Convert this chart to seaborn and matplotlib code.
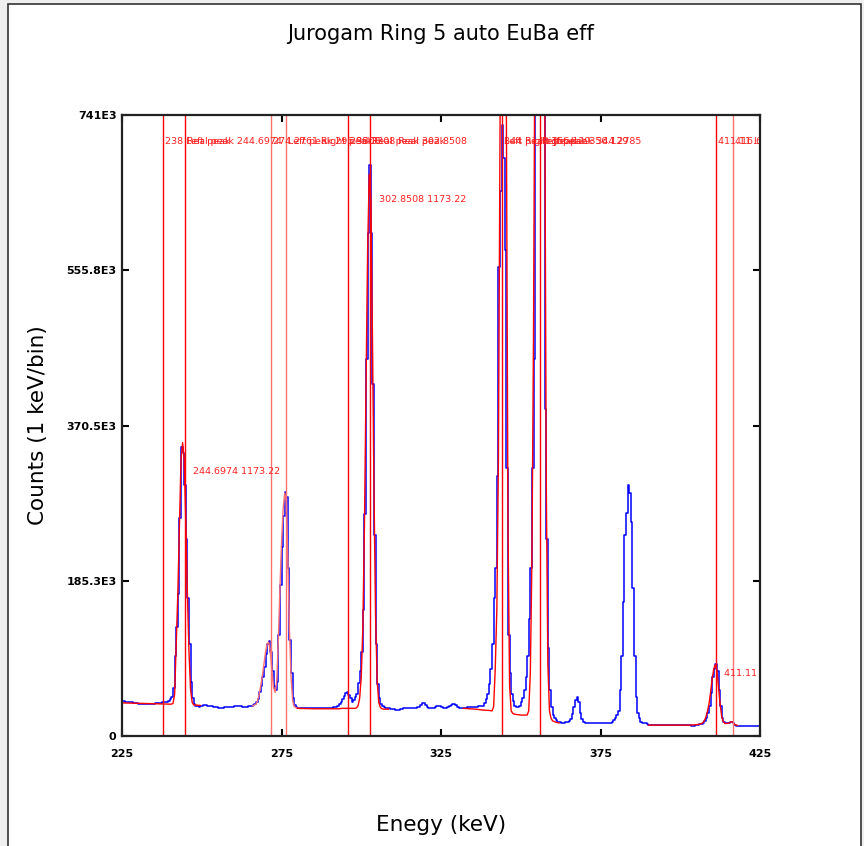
import numpy as np
import pandas as pd
import matplotlib
matplotlib.use("Agg")
import matplotlib.pyplot as plt
from matplotlib.patches import Rectangle
import seaborn as sns

# ---------------- data ----------------
# measured spectrum, counts in thousands, 0.5 keV bins starting at 225 keV
spectrum_start_kev = 225.0
bin_width_kev = 0.5
spectrum_counts_k = [
    42, 41.5, 41, 41, 40.5, 40, 40, 39.5, 39, 39, 38.5, 38.5, 38.5, 38, 38, 38, 38.5, 38, 38, 38.5,          # 225
    38.5, 39, 39, 39, 39.5, 40, 40, 40.5, 41, 42, 44, 47, 57, 95, 130, 170, 260, 345, 338, 300,             # 235
    235, 165, 110, 65, 45, 38, 36, 35.5, 35, 35.5, 36, 36.5, 36.5, 36, 35.5, 35.5, 35.5, 35, 35, 34.5,      # 245
    34, 34, 34, 34, 34.5, 35, 35, 35, 34.5, 35, 35.5, 36, 36, 36, 35.5, 35, 35, 35, 35, 35.5,               # 255
    35.5, 36, 36.5, 38, 40, 44, 52, 60, 70, 82, 98, 110, 113, 100, 78, 60, 55, 65, 120, 180,                # 265
    225, 262, 291, 285, 200, 115, 75, 45, 37, 35, 34, 33.5, 33, 33, 33, 33, 33, 33, 33, 33.5,               # 275
    33, 33, 33, 33.5, 33, 33, 33, 33.5, 33.5, 34, 34, 34, 34.5, 35, 35, 36, 38, 41, 44, 48,                 # 285
    51, 52, 49, 45, 41, 43, 46, 50, 63, 78, 100, 150, 265, 450, 600, 681, 600, 420, 240, 110,               # 295
    62, 45, 38, 36, 35, 34, 33, 33, 32.5, 32, 32, 31.5, 31, 31, 32, 32.5, 33, 33, 34, 34,                   # 305
    33.5, 33.5, 34, 34, 34, 34.5, 35, 37, 39, 39, 37, 35, 33, 33, 33.5, 34, 35, 36, 36, 35.5,               # 315
    35, 34, 34, 34, 35, 36, 37, 38, 38, 37, 35, 34, 34, 34, 34, 34, 34.5, 34.5, 35, 35,                     # 325
    35, 35, 35, 35.5, 36, 36, 36, 39, 44, 50, 62, 80, 110, 165, 200, 310, 560, 650, 729, 690,               # 335
    580, 320, 120, 75, 50, 42, 36, 35, 35, 36, 40, 45, 55, 70, 95, 140, 200, 320, 450, 900,                 # 345
    1150, 1250, 1200, 1000, 800, 390, 235, 105, 55, 35, 25, 21, 19, 17, 17, 16, 16, 16, 17, 17,             # 355
    18, 20, 26, 35, 43, 47, 40, 28, 20, 17, 16, 16, 16, 16, 16, 16, 16, 16, 16, 16,                         # 365
    16, 16, 16, 16, 16, 16, 16, 17, 19, 22, 25, 30, 55, 95, 160, 240, 266, 300, 290, 255,                   # 375
    177, 95, 47, 27, 21, 17, 16, 15.5, 15, 14, 13.5, 13, 13, 13, 13, 13, 13, 13, 13, 13,                    # 385
    13, 13, 13, 13, 13, 13, 13, 13, 13, 13, 13, 13, 13, 13, 13, 13, 13, 12.5, 12.5, 13,                     # 395
    13, 13.5, 14, 14.5, 16, 18, 22, 28, 36, 51, 70, 80, 86, 78, 55, 36, 22, 17, 15.5, 15.5,                 # 405
    16, 17, 17, 16, 13, 12, 12, 12, 12, 12, 12, 12, 12, 12, 12, 12, 12, 12, 12, 12,                         # 415
]

# fitted curves (keV, thousands of counts)
fit244_kev = [225, 230, 235, 240, 240.5, 241, 241.5, 242, 242.5, 243, 243.5, 244, 244.5, 245, 245.5, 246,
              246.5, 247, 247.5, 248, 249.5]
fit244_k = [39.5, 39, 38.5, 38, 38, 39, 50, 110, 170, 250, 330, 350, 330, 255, 170, 100, 55, 40, 37, 37, 36.5]

fit272_kev = [266, 267, 267.5, 268, 268.5, 269, 269.5, 270, 270.5, 271, 271.5, 272, 272.5, 273, 273.5, 274,
              274.5, 275, 275.5, 276, 276.5, 277, 277.5, 278, 278.5, 279, 280, 280.5]
fit272_k = [36, 38, 42, 50, 60, 72, 86, 100, 110, 112, 100, 78, 58, 52, 65, 115, 175, 230, 270, 290, 280,
            210, 125, 70, 42, 35, 33, 33]

fit302_kev = [280, 285, 290, 293, 294, 295, 296, 297, 298, 298.5, 299, 299.5, 300, 300.5, 301, 301.5, 302,
              302.5, 303, 303.5, 304, 304.5, 305, 305.5, 306, 306.5, 307, 308.5]
fit302_k = [33, 32.5, 32.5, 32.5, 33, 33, 33, 33, 33, 33.5, 36, 45, 70, 130, 250, 420, 580, 670, 640, 480,
            290, 140, 65, 40, 34, 32.5, 32, 32]

fit350_kev = [332, 334, 336, 338, 340, 341, 341.5, 342, 342.5, 343, 343.5, 344, 344.5, 345, 345.5, 346, 346.5,
              347, 347.5, 348, 350, 352, 352.5, 353, 353.5, 354, 354.5, 355, 355.5, 356, 356.5, 357, 357.5,
              358, 358.5, 359, 359.5, 360, 361, 362]
fit350_k = [33, 32.5, 32, 31, 30.5, 30, 35, 80, 150, 330, 720, 1000, 1050, 950, 740, 250, 60, 30, 27, 26, 25,
            25, 30, 75, 210, 480, 900, 1300, 1500, 1500, 1300, 1000, 800, 300, 85, 30, 21, 18, 16.5, 15.5]

fit411_kev = [390, 395, 400, 403, 405, 406, 407, 407.5, 408, 408.5, 409, 409.5, 410, 410.5, 411, 411.5, 412,
              412.5, 413, 413.5, 414, 415, 415.5, 416, 416.5, 417, 417.5, 418]
fit411_k = [13, 13, 13, 13, 13.5, 14, 15.5, 18, 22, 29, 38, 52, 68, 80, 85, 78, 58, 38, 23, 17, 15, 15, 16,
            17, 16.5, 14, 13, 12.5]

# peak markers
marker_kev = [238.0, 244.6974, 271.7, 276.3, 295.9, 302.8508, 344.2785, 356.129, 411.11, 416.6]
marker_light = [False, False, True, True, False, False, False, False, False, True]

top_label_kev = [238.0, 244.6974, 271.7, 276.3, 295.9, 302.8508, 344.2785, 344.2785, 356.129, 356.129,
                 411.11, 416.6]
top_label_text = ["238 Left peak", "Real peak 244.6974", "274.2761 Right peak", "Left peak 296.3308",
                  "296.3308 Real peak", "Real peak 302.8508", "344 Right peak", "Left peak 356.129",
                  "Left peak 356.129", "Right peak 344.2785", "411.11 Left peak", "416.6 Real peak"]

peak_label_kev = [244.6974, 302.8508, 411.11]
peak_label_height_k = [316, 640, 75]
peak_label_text = ["244.6974 1173.22", "302.8508 1173.22", "411.11 1173.22"]

x_ticks = [225, 275, 325, 375, 425]
y_ticks = [0, 185250, 370500, 555750, 741000]
y_tick_labels = ["0", "185.3E3", "370.5E3", "555.8E3", "741E3"]

title = "Jurogam Ring 5 auto EuBa eff"
x_label = "Enegy (keV)"
y_label = "Counts (1 keV/bin)"

# ---------------- figure ----------------
W, H = 864, 846
fig = plt.figure(figsize=(W / 100, H / 100), dpi=100)
fig.patch.set_facecolor("#efefef")
fig.patches.append(Rectangle((8 / W, -0.01), (861 - 8) / W, (H - 3.5) / H + 0.01,
                             transform=fig.transFigure, facecolor="white",
                             edgecolor="#333333", linewidth=1.2, zorder=-5))

ax = fig.add_axes([122 / W, 110 / H, (760 - 122) / W, (736 - 115) / H])
ax.set_facecolor("white")

# measured spectrum as steps
n = len(spectrum_counts_k)
edges = spectrum_start_kev + bin_width_kev * np.arange(n + 1)
counts = np.array(spectrum_counts_k + [spectrum_counts_k[-1]], dtype=float) * 1000
spec = pd.DataFrame({"energy": edges, "counts": counts})
sns.lineplot(data=spec, x="energy", y="counts", ax=ax, color="#0000ff", linewidth=1.1,
             drawstyle="steps-post", estimator=None, sort=False, zorder=2)

fits = [(fit244_kev, fit244_k, "#ff0000"), (fit272_kev, fit272_k, "#ff7070"),
        (fit302_kev, fit302_k, "#ff0000"), (fit350_kev, fit350_k, "#ff0000"),
        (fit411_kev, fit411_k, "#ff0000")]
for ek, ck, col in fits:
    df = pd.DataFrame({"energy": ek, "counts": np.array(ck) * 1000})
    sns.lineplot(data=df, x="energy", y="counts", ax=ax, color=col, linewidth=1.0,
                 estimator=None, sort=False, zorder=3)

for e, light in zip(marker_kev, marker_light):
    ax.axvline(e, color="#ff7070" if light else "#ff0000", linewidth=1.0, zorder=4)

for e, t in zip(top_label_kev, top_label_text):
    ax.text(e + 0.6, 708800, t, color="#ff2020", fontsize=6.8, ha="left", va="center",
            clip_on=True, zorder=5)

for e, h, t in zip(peak_label_kev, peak_label_height_k, peak_label_text):
    ax.text(e + 2.6, h * 1000, t, color="#ff2020", fontsize=6.8, ha="left", va="center",
            clip_on=True, zorder=5)

ax.set_xlim(225, 425)
ax.set_ylim(0, 741000)
ax.set_xticks(x_ticks)
ax.set_xticklabels([str(v) for v in x_ticks])
ax.set_yticks(y_ticks)
ax.set_yticklabels(y_tick_labels)
ax.minorticks_off()
ax.tick_params(direction="in", length=5, width=1.5, top=True, right=True,
               labelsize=8, colors="black")
ax.tick_params(axis="x", pad=9)
ax.tick_params(axis="y", pad=4)
for lab in ax.get_xticklabels() + ax.get_yticklabels():
    lab.set_fontweight("bold")
for sp in ax.spines.values():
    sp.set_color("#222222")
    sp.set_linewidth(1.6)
    sp.set_zorder(6)

ax.set_xlabel(x_label, fontsize=15.5, labelpad=41)
ax.set_ylabel(y_label, fontsize=15.5, labelpad=13)
ax.set_title(title, fontsize=15, pad=54)

fig.savefig("out.png", dpi=100, facecolor=fig.get_facecolor())
